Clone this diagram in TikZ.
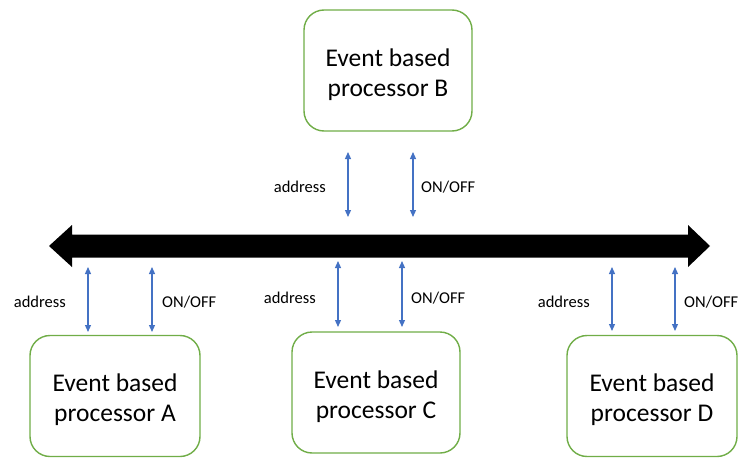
\documentclass[tikz,border=0pt]{standalone}
\usepackage{fontspec}
\setmainfont{Carlito}
\usetikzlibrary{arrows.meta}
\definecolor{boxgreen}{RGB}{112,173,71}
\definecolor{arrblue}{RGB}{68,114,196}
\tikzset{
  procbox/.style={draw=boxgreen, line width=1.4pt, rounded corners=20pt, fill=white,
    minimum width=#1, minimum height=121pt, inner sep=0pt},
  procbox/.default=168pt,
  proctext/.style={align=center, inner sep=0pt, font=\fontsize{25.5}{30}\selectfont},
  sigarr/.style={draw=arrblue, line width=1.2pt, {Triangle[length=7pt,width=6pt]}-{Triangle[length=7pt,width=6pt]}},
  siglab/.style={inner sep=0pt, font=\fontsize{16.5}{18}\selectfont},
}
\begin{document}
\begin{tikzpicture}[x=1pt,y=-1pt]
\useasboundingbox (0,0) rectangle (740,458);
% processors
\node[procbox=168pt] (B) at (388,70.5) {};
\node[procbox=170pt] (A) at (115,396) {};
\node[procbox=168pt] (C) at (376,392.5) {};
\node[procbox=170pt] (D) at (652,396) {};
\node[proctext] (Bt) at ([yshift=-4pt]B.center) {Event based\\processor B};
\node[proctext] (At) at ([yshift=-4pt]A.center) {Event based\\processor A};
\node[proctext] (Ct) at ([yshift=-4pt]C.center) {Event based\\processor C};
\node[proctext] (Dt) at ([yshift=-4pt]D.center) {Event based\\processor D};
% bus
\coordinate (busL) at (49,246);
\coordinate (busR) at (710,246);
\fill[black] (busL) -- (72,225) -- (72,234.5) -- (688,234.5) -- (688,225) -- (busR)
  -- (688,267) -- (688,257.5) -- (72,257.5) -- (72,267) -- cycle;
% B signals
\coordinate (Ba1) at (348,152); \coordinate (Ba2) at (348,217);
\coordinate (Bo1) at (413,152); \coordinate (Bo2) at (413,217);
\draw[sigarr] (Ba1) -- (Ba2);
\draw[sigarr] (Bo1) -- (Bo2);
\node[siglab, anchor=east] (Bal) at (326,187) {address};
\node[siglab, anchor=west] (Bol) at (421,187) {ON/OFF};
% A signals
\coordinate (Aa1) at (88,267); \coordinate (Aa2) at (88,332);
\coordinate (Ao1) at (152,267); \coordinate (Ao2) at (152,332);
\draw[sigarr] (Aa1) -- (Aa2);
\draw[sigarr] (Ao1) -- (Ao2);
\node[siglab, anchor=east] (Aal) at (66,302) {address};
\node[siglab, anchor=west] (Aol) at (162,302) {ON/OFF};
% C signals
\coordinate (Ca1) at (338,261); \coordinate (Ca2) at (338,327);
\coordinate (Co1) at (402,261); \coordinate (Co2) at (402,327);
\draw[sigarr] (Ca1) -- (Ca2);
\draw[sigarr] (Co1) -- (Co2);
\node[siglab, anchor=east] (Cal) at (316,298) {address};
\node[siglab, anchor=west] (Col) at (411,298) {ON/OFF};
% D signals
\coordinate (Da1) at (612,267); \coordinate (Da2) at (612,331);
\coordinate (Do1) at (675,267); \coordinate (Do2) at (675,331);
\draw[sigarr] (Da1) -- (Da2);
\draw[sigarr] (Do1) -- (Do2);
\node[siglab, anchor=east] (Dal) at (590,302) {address};
\node[siglab, anchor=west] (Dol) at (684,302) {ON/OFF};
\end{tikzpicture}
\end{document}
